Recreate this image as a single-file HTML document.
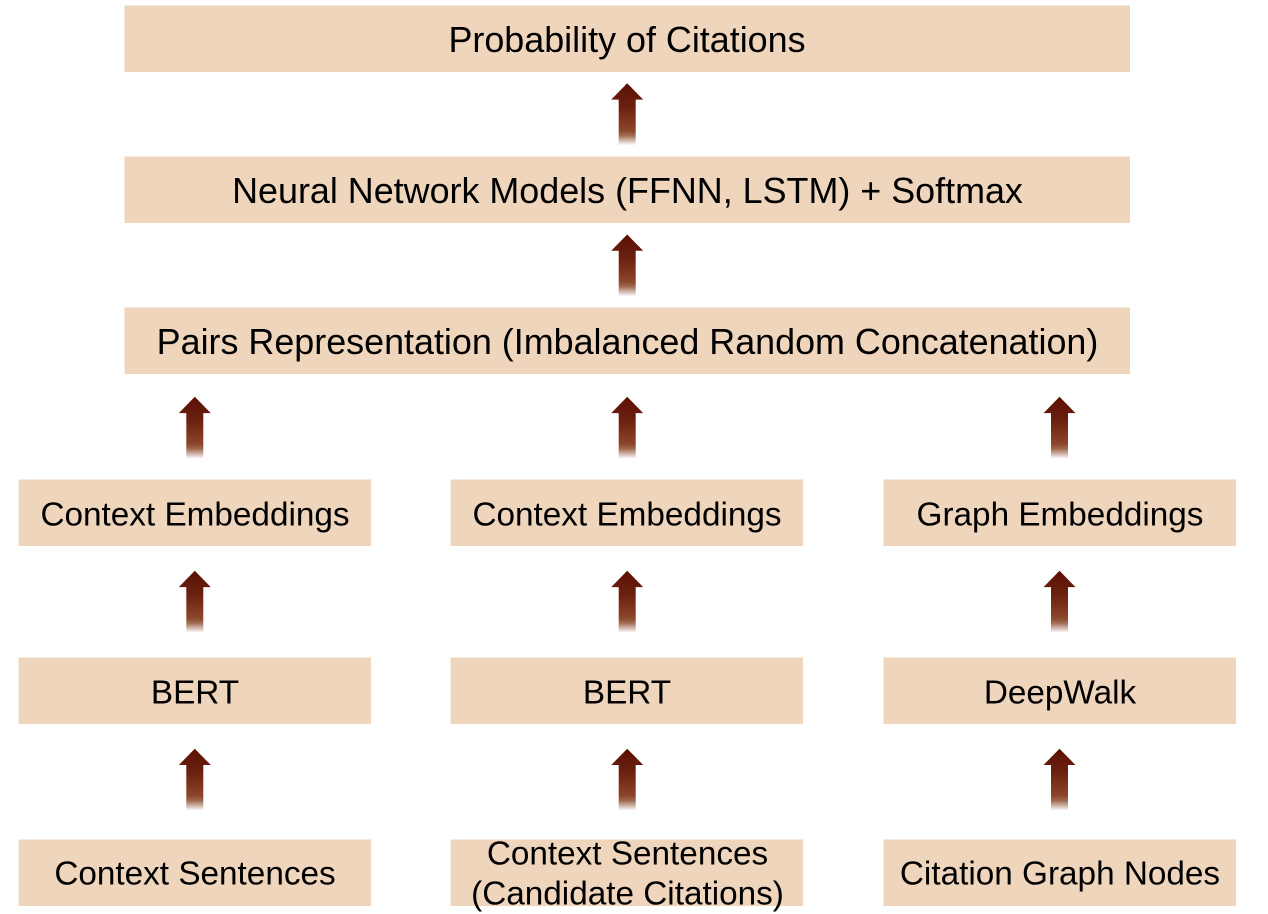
<!DOCTYPE html>
<html>
<head>
<meta charset="utf-8">
<style>
html,body{margin:0;padding:0;background:#fff;width:1268px;height:914px;overflow:hidden}
svg{display:block}
.box{fill:#eed5bc}
text{font-family:"Liberation Sans",Arial,sans-serif;font-size:33.3px;fill:#000;text-anchor:middle}
text.wide{font-size:35.9px}
</style>
</head>
<body>
<svg width="1268" height="914" viewBox="0 0 1268 914" xmlns="http://www.w3.org/2000/svg">
<defs>
<linearGradient id="ag" x1="0" y1="0" x2="0" y2="1">
<stop offset="0" stop-color="#5c0f04"/>
<stop offset="0.4" stop-color="#6b2211"/>
<stop offset="0.76" stop-color="#8c4628"/>
<stop offset="0.84" stop-color="#a06a52"/>
<stop offset="1" stop-color="#ffffff"/>
</linearGradient>
<path id="arrow" d="M0 0L16 16.300H8.500V62H-8.500V16.300H-16Z" fill="url(#ag)"/>
</defs>

<g><rect class="box" x="124.500" y="5.500" width="1005.500" height="66.500"/><text class="wide" x="627" y="52">Probability of Citations</text></g>
<g><rect class="box" x="124.500" y="156.500" width="1005.500" height="66.500"/><text class="wide" x="627.500" y="203">Neural Network Models (FFNN, LSTM) + Softmax</text></g>
<g><rect class="box" x="124.500" y="307.500" width="1005.500" height="66.500"/><text class="wide" x="627.500" y="354">Pairs Representation (Imbalanced Random Concatenation)</text></g>

<g><rect class="box" x="18.500" y="479.500" width="352.500" height="66.500"/><text x="195" y="525.400">Context Embeddings</text></g>
<g><rect class="box" x="450.500" y="479.500" width="352.500" height="66.500"/><text x="627" y="525.400">Context Embeddings</text></g>
<g><rect class="box" x="883.500" y="479.500" width="352.500" height="66.500"/><text x="1060" y="525.400">Graph Embeddings</text></g>

<g><rect class="box" x="18.500" y="657.500" width="352.500" height="66.500"/><text x="195" y="703.400">BERT</text></g>
<g><rect class="box" x="450.500" y="657.500" width="352.500" height="66.500"/><text x="627" y="703.400">BERT</text></g>
<g><rect class="box" x="883.500" y="657.500" width="352.500" height="66.500"/><text x="1060" y="703.400">DeepWalk</text></g>

<g><rect class="box" x="18.500" y="839.500" width="352.500" height="66.500"/><text x="195" y="884.600">Context Sentences</text></g>
<g><rect class="box" x="450.500" y="839.500" width="352.500" height="66.500"/><text x="627.500" y="864.600">Context Sentences</text><text x="627.500" y="904.600">(Candidate Citations)</text></g>
<g><rect class="box" x="883.500" y="839.500" width="352.500" height="66.500"/><text x="1060" y="884.600">Citation Graph Nodes</text></g>

<use href="#arrow" x="627.200" y="83.300"/>
<use href="#arrow" x="627.200" y="234.500"/>
<use href="#arrow" x="194.800" y="396.800"/>
<use href="#arrow" x="627.200" y="396.800"/>
<use href="#arrow" x="1059.500" y="396.800"/>
<use href="#arrow" x="194.800" y="570.800"/>
<use href="#arrow" x="627.200" y="570.800"/>
<use href="#arrow" x="1059.500" y="570.800"/>
<use href="#arrow" x="194.800" y="748.700"/>
<use href="#arrow" x="627.200" y="748.700"/>
<use href="#arrow" x="1059.500" y="748.700"/>
</svg>
</body>
</html>
